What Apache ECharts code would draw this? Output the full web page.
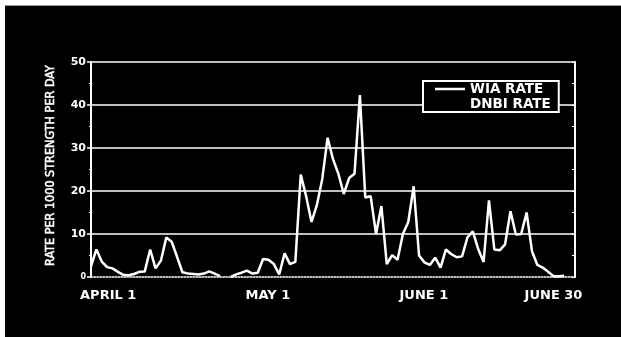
<!DOCTYPE html>
<html>
<head>
<meta charset="utf-8">
<script src="https://cdn.jsdelivr.net/npm/echarts@6/dist/echarts.min.js"></script>
<style>
  html, body { margin: 0; padding: 0; background: #fff; }
  #chart { width: 621px; height: 337px; }
</style>
</head>
<body>
<div id="chart"></div>
<script>
// Daily casualty rates, April 1 (day 0) through June 30 (day 90)
const days = Array.from({ length: 91 }, (_, i) => i);
const wiaRate = [
  2.5, 6.4, 3.6, 2.3, 2.0, 1.2, 0.5, 0.4, 0.7, 1.2,
  1.3, 6.4, 2.0, 3.8, 9.2, 8.2, 4.7, 1.1, 0.8, 0.7,
  0.6, 0.8, 1.3, 0.8, 0.2, null, 0, 0.6, 1.0, 1.5,
  0.8, 1.0, 4.2, 4.0, 3.0, 0.6, 5.5, 3.0, 3.5, 23.8,
  18.8, 12.8, 16.7, 22.8, 32.4, 27.4, 24.0, 19.3, 23.0, 24.0,
  42.3, 18.5, 18.8, 10.0, 16.5, 3.0, 5.1, 4.0, 10.0, 12.8,
  21.1, 5.0, 3.4, 2.8, 4.5, 2.2, 6.4, 5.3, 4.6, 4.8,
  9.2, 10.6, 6.5, 3.5, 17.8, 6.4, 6.2, 7.6, 15.3, 9.9,
  10.0, 15.0, 6.0, 2.8, 2.2, 1.2, 0.2, 0.2, 0.3, null,
  null
];
const dnbiRate = [];

const seriesNames = ['WIA RATE', 'DNBI RATE'];
const xTickLabels = ['APRIL 1', 'MAY 1', 'JUNE 1', 'JUNE 30'];
const xTickAnchors = [3.2, 32.9, 61.9, 86];
const yTicks = [0, 10, 20, 30, 40, 50];
const yAxisTitle = 'RATE PER 1000 STRENGTH PER DAY';

const WHITE = '#ffffff';
const labelFont = 'DejaVu Sans';

const chart = echarts.init(document.getElementById('chart'), null, { renderer: 'canvas' });

chart.setOption({
  backgroundColor: '#000000',
  animation: false,
  graphic: [
    { type: 'rect', shape: { x: 0, y: 0, width: 621, height: 5 }, style: { fill: '#ffffff' }, z: 100 },
    { type: 'rect', shape: { x: 0, y: 0, width: 5, height: 337 }, style: { fill: '#ffffff' }, z: 100 },
    { type: 'rect', shape: { x: 5, y: 5, width: 616, height: 1 }, style: { fill: '#9a9a9a' }, z: 100 }
  ],
  grid: { left: 91, right: 46, top: 62, bottom: 60, containLabel: false },
  legend: {
    data: [
      { name: seriesNames[0], icon: 'path://M0,0 L30,0 L30,2.5 L0,2.5 Z' },
      { name: seriesNames[1], icon: 'path://M0,0 L30,0 L30,2.5 L0,2.5 Z' }
    ],
    symbolKeepAspect: true,
    orient: 'vertical',
    left: 423,
    top: 81,
    itemWidth: 30,
    itemHeight: 14,
    itemGap: 1,
    padding: [1, 8, 1, 12],
    backgroundColor: '#000000',
    borderColor: WHITE,
    borderWidth: 2,
    borderRadius: 0,
    textStyle: { color: WHITE, fontFamily: labelFont, fontWeight: 'bold', fontSize: 13.5 }
  },
  xAxis: {
    type: 'value',
    min: 0,
    max: 90,
    axisLine: { show: true, onZero: false, lineStyle: { color: WHITE, width: 1.5, type: 'dotted' } },
    axisTick: { show: false },
    splitLine: { show: false },
    axisLabel: {
      show: true,
      customValues: xTickAnchors,
      margin: 12,
      color: WHITE,
      fontFamily: labelFont,
      fontWeight: 'bold',
      fontSize: 13,
      formatter: (v) => {
        const i = xTickAnchors.indexOf(v);
        return i >= 0 ? xTickLabels[i] : '';
      }
    }
  },
  yAxis: [
    {
      type: 'value',
      min: yTicks[0],
      max: yTicks[yTicks.length - 1],
      interval: 10,
      position: 'left',
      name: yAxisTitle,
      nameLocation: 'middle',
      nameGap: 34,
      nameRotate: 90,
      nameTextStyle: {
        color: WHITE,
        fontFamily: 'DejaVu Sans Condensed',
        fontSize: 12.5,
        fontWeight: 'normal',
        textBorderColor: WHITE,
        textBorderWidth: 0.5,
        padding: [0, 0, 0, 8]
      },
      axisLine: { show: true, lineStyle: { color: WHITE, width: 2 } },
      axisTick: { show: true, length: 4, lineStyle: { color: WHITE, width: 1.5 } },
      minorTick: { show: true, splitNumber: 2, length: 2, lineStyle: { color: WHITE, width: 1 } },
      splitLine: { show: true, showMinLine: false, lineStyle: { color: WHITE, width: 1.5 } },
      axisLabel: {
        margin: 5,
        color: WHITE,
        fontFamily: labelFont,
        fontWeight: 'bold',
        fontSize: 11,
        formatter: (v) => (v === 0 ? '{s|0}' : String(v)),
        rich: { s: { fontSize: 8, fontWeight: 'bold', fontFamily: labelFont, color: WHITE } }
      }
    },
    {
      type: 'value',
      min: yTicks[0],
      max: yTicks[yTicks.length - 1],
      interval: 10,
      position: 'right',
      axisLine: { show: true, lineStyle: { color: WHITE, width: 2 } },
      axisTick: { show: true, inside: true, length: 3, lineStyle: { color: WHITE, width: 1 } },
      minorTick: { show: true, splitNumber: 2, length: 3, lineStyle: { color: WHITE, width: 1 } },
      splitLine: { show: false },
      axisLabel: { show: false }
    }
  ],
  series: [
    {
      name: seriesNames[0],
      type: 'line',
      data: days.map((d) => [d, wiaRate[d]]),
      showSymbol: false,
      symbol: 'none',
      connectNulls: false,
      lineStyle: { color: WHITE, width: 2.5 },
      itemStyle: { color: WHITE },
      z: 3
    },
    {
      name: seriesNames[1],
      type: 'line',
      data: dnbiRate,
      showSymbol: false,
      symbol: 'none',
      lineStyle: { color: '#000000', width: 1, type: 'dotted' },
      itemStyle: { color: '#000000' }
    }
  ]
});
</script>
</body>
</html>
